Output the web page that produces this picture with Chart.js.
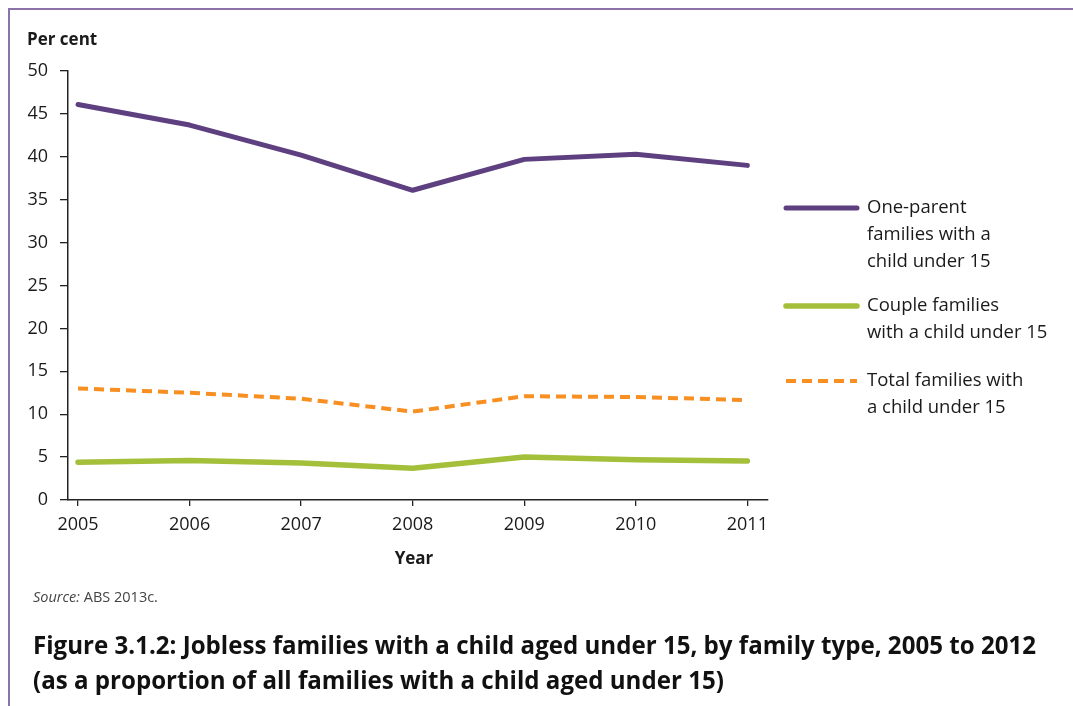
<!DOCTYPE html>
<html>
<head>
<meta charset="utf-8">
<script src="https://cdn.jsdelivr.net/npm/chart.js@4.4.1/dist/chart.umd.min.js"></script>
<style>
  html, body { margin: 0; padding: 0; background: #ffffff; }
  #wrap { position: relative; width: 1073px; height: 706px; }
</style>
</head>
<body>
<div id="wrap"><canvas id="c" width="1073" height="706"></canvas></div>
<script>
// Years on the horizontal axis
const years = [2005, 2006, 2007, 2008, 2009, 2010, 2011];

// Jobless families as a share of all families with a child under 15 (per cent)
const oneParent = [46.1, 43.7, 40.2, 36.1, 39.7, 40.3, 39.0];
const couple    = [4.4, 4.6, 4.3, 3.7, 5.0, 4.7, 4.55];
const total     = [13.0, 12.5, 11.8, 10.3, 12.1, 12.0, 11.65];

// Series names as they wrap in the legend
const oneParentLabel = ['One-parent', 'families with a', 'child under 15'];
const coupleLabel    = ['Couple families', 'with a child under 15'];
const totalLabel     = ['Total families with', 'a child under 15'];

// Value axis ticks
const yTickMin = 0, yTickMax = 50, yTickStep = 5;

const yAxisTitle = 'Per cent';
const xAxisTitle = 'Year';
const sourceItalic = 'Source:';
const sourceText = ' ABS 2013c.';
const figureTitle = [
  'Figure 3.1.2: Jobless families with a child aged under 15, by family type, 2005 to 2012',
  '(as a proportion of all families with a child aged under 15)'
];

const PURPLE = '#5e4080';
const GREEN = '#a4bf3a';
const ORANGE = '#f78f22';
const INK = '#1a1a1a';
const FONT = '"Open Sans", "Noto Sans", sans-serif';

const pts = arr => years.map((y, i) => ({ x: y, y: arr[i] }));

const decorations = {
  id: 'decorations',
  afterDraw(chart) {
    const ctx = chart.ctx;
    const area = chart.chartArea;
    ctx.save();

    // page frame (left and top rules)
    ctx.strokeStyle = '#8b72a8';
    ctx.lineWidth = 2;
    ctx.beginPath();
    ctx.moveTo(9, 706);
    ctx.lineTo(9, 9);
    ctx.lineTo(1073, 9);
    ctx.stroke();

    // axis titles
    ctx.fillStyle = INK;
    ctx.font = 'bold 17px ' + FONT;
    ctx.textBaseline = 'middle';
    ctx.textAlign = 'left';
    ctx.fillText(yAxisTitle, 27, 40);
    ctx.textAlign = 'center';
    ctx.fillText(xAxisTitle, 414, 559);

    // legend
    const starts = [208, 306, 381];
    const lineH = 26.7;
    ctx.textAlign = 'left';
    ctx.font = '18.5px ' + FONT;
    chart.data.datasets.forEach((ds, i) => {
      const y0 = starts[i];
      ctx.save();
      ctx.strokeStyle = ds.borderColor;
      ctx.lineWidth = ds.borderWidth;
      ctx.lineCap = ds.borderDash.length ? 'butt' : 'round';
      ctx.setLineDash(ds.borderDash);
      ctx.beginPath();
      ctx.moveTo(786, y0);
      ctx.lineTo(857, y0);
      ctx.stroke();
      ctx.restore();
      ctx.fillStyle = INK;
      ds.legendLines.forEach((t, k) => ctx.fillText(t, 867, y0 + k * lineH));
    });

    // source note
    ctx.fillStyle = '#444444';
    ctx.font = 'italic 14.5px ' + FONT;
    ctx.fillText(sourceItalic, 33, 598);
    const w = ctx.measureText(sourceItalic).width;
    ctx.font = '14.5px ' + FONT;
    ctx.fillText(sourceText, 33 + w, 598);

    // figure caption, set condensed
    ctx.fillStyle = '#111111';
    ctx.font = 'bold 25px ' + FONT;
    const full = ctx.measureText(figureTitle[0]).width;
    const sx = 1003 / full;
    [647, 682].forEach((y, i) => {
      ctx.save();
      ctx.translate(33, y);
      ctx.scale(sx, 1);
      ctx.fillText(figureTitle[i], 0, 0);
      ctx.restore();
    });
    ctx.restore();
  }
};

new Chart(document.getElementById('c'), {
  type: 'line',
  data: {
    datasets: [
      { label: oneParentLabel.join(' '), legendLines: oneParentLabel, data: pts(oneParent),
        borderColor: PURPLE, borderWidth: 5, borderDash: [] },
      { label: coupleLabel.join(' '), legendLines: coupleLabel, data: pts(couple),
        borderColor: GREEN, borderWidth: 5.5, borderDash: [] },
      { label: totalLabel.join(' '), legendLines: totalLabel, data: pts(total),
        borderColor: ORANGE, borderWidth: 4, borderDash: [10, 6] }
    ].map(ds => Object.assign(ds, {
      pointRadius: 0, pointHoverRadius: 0, tension: 0, fill: false,
      borderCapStyle: ds.borderDash.length ? 'butt' : 'round', borderJoinStyle: 'round'
    }))
  },
  options: {
    responsive: false,
    animation: false,
    devicePixelRatio: 1,
    layout: { padding: { left: 0, top: 71, right: 305, bottom: 0 } },
    plugins: { legend: { display: false }, tooltip: { enabled: false } },
    scales: {
      x: {
        type: 'linear',
        min: years[0] - 0.09,
        max: years[years.length - 1] + 0.185,
        afterFit: s => { s.height = 206; },
        grid: { drawOnChartArea: false, drawTicks: true, tickLength: 6, color: '#222', lineWidth: 1.3 },
        border: { display: true, color: '#222', width: 1.5 },
        ticks: {
          stepSize: 1, includeBounds: false, autoSkip: false, maxRotation: 0,
          padding: 8, color: INK, font: { family: FONT, size: 18 },
          callback: v => String(v)
        }
      },
      y: {
        min: yTickMin, max: yTickMax,
        afterFit: s => { s.width = 68; },
        grid: { drawOnChartArea: false, drawTicks: true, tickLength: 8, color: '#222', lineWidth: 1.3 },
        border: { display: true, color: '#222', width: 1.5 },
        ticks: { stepSize: yTickStep, padding: 12, color: INK, font: { family: FONT, size: 18 } }
      }
    }
  },
  plugins: [decorations]
});
</script>
</body>
</html>
